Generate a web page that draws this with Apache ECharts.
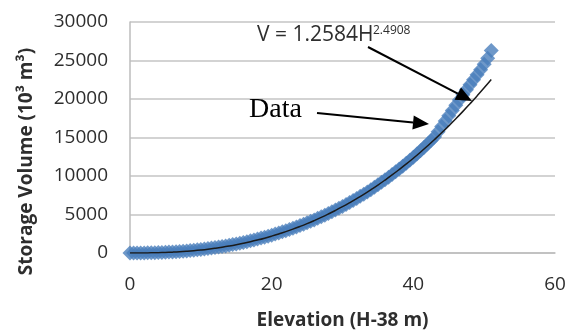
<!DOCTYPE html>
<html>
<head>
    <meta charset="UTF-8">
    <title>Storage Volume vs Elevation</title>
    <script src="https://cdn.jsdelivr.net/npm/echarts@6/dist/echarts.min.js"></script>
    <style>
        * { margin: 0; padding: 0; }
        body { background: #fff; }
        #chart { width: 571px; height: 332px; }
    </style>
</head>
<body>
    <div id="chart"></div>
    <script>
        // elevation (H-38 m) of each measured point
        const dataH = [
            0, 0.5, 1, 1.5, 2, 2.5, 3, 3.5, 4, 4.5, 5, 5.5, 6, 6.5, 7, 7.5, 8, 8.5, 9, 9.5,
            10, 10.5, 11, 11.5, 12, 12.5, 13, 13.5, 14, 14.5, 15, 15.5, 16, 16.5, 17, 17.5, 18, 18.5, 19, 19.5,
            20, 20.5, 21, 21.5, 22, 22.5, 23, 23.5, 24, 24.5, 25, 25.5, 26, 26.5, 27, 27.5, 28, 28.5, 29, 29.5,
            30, 30.5, 31, 31.5, 32, 32.5, 33, 33.5, 34, 34.5, 35, 35.5, 36, 36.5, 37, 37.5, 38, 38.5, 39, 39.5,
            40, 40.5, 41, 41.5, 42, 42.5, 43, 43.5, 44, 44.5, 45, 45.5, 46, 46.5, 47, 47.5, 48, 48.5, 49, 49.5,
            50, 50.5, 51
        ];
        // storage volume (10^3 m3)
        const dataV = [
            0, 2, 5, 9, 15, 22, 30, 42, 55, 72, 90, 115, 140, 170, 200, 235, 270, 315, 360, 410,
            460, 515, 570, 635, 700, 770, 840, 920, 1000, 1090, 1180, 1275, 1370, 1475, 1580, 1695, 1810, 1935, 2060, 2190,
            2320, 2460, 2600, 2750, 2900, 3060, 3220, 3390, 3560, 3740, 3920, 4110, 4300, 4500, 4700, 4910, 5120, 5345, 5570, 5810,
            6050, 6300, 6550, 6815, 7080, 7360, 7640, 7935, 8230, 8540, 8850, 9175, 9500, 9840, 10180, 10540, 10900, 11275, 11650, 12050,
            12450, 12865, 13280, 13715, 14150, 14600, 15050, 15740, 16440, 17135, 17830, 18515, 19200, 19870, 20540, 21200, 21860, 22510, 23160, 23800,
            24500, 25300, 26300
        ];

        // power-law trendline as drawn
        const fitH = [
            0, 1, 2, 3, 4, 5, 6, 7, 8, 9, 10, 11, 12, 13, 14, 15, 16, 17, 18, 19, 20, 21, 22, 23, 24, 25,
            26, 27, 28, 29, 30, 31, 32, 33, 34, 35, 36, 37, 38, 39, 40, 41, 42, 43, 44, 45, 46, 47, 48, 49, 50, 51
        ];
        const fitV = [
            0, 1, 7, 19, 40, 69, 109, 160, 224, 300, 390, 494, 614, 749, 901, 1070, 1257, 1462, 1686, 1928, 2191, 2474, 2777, 3102, 3449, 3818,
            4210, 4624, 5063, 5526, 6013, 6525, 7061, 7623, 8213, 8826, 9468, 10136, 10833, 11558, 12310, 13090, 13900, 14740, 15607, 16508, 17433, 18391, 19384, 20405, 21458, 22544
        ];

        const xTicks = [0, 20, 40, 60];

        const labelFont = { fontFamily: 'Open Sans', fontSize: 19, color: '#2e2e2e' };
        const titleFont = { fontFamily: 'Open Sans', fontSize: 19, fontWeight: 'bold', color: '#2e2e2e' };

        const chart = echarts.init(document.getElementById('chart'));

        // annotation arrow: shaft + filled head, pixel coords
        function arrow(x1, y1, x2, y2) {
            const ang = Math.atan2(y2 - y1, x2 - x1);
            const len = 16, half = 7;
            const bx = x2 - len * Math.cos(ang), by = y2 - len * Math.sin(ang);
            const px = -Math.sin(ang) * half, py = Math.cos(ang) * half;
            return [
                { type: 'line', shape: { x1: x1, y1: y1, x2: bx, y2: by }, style: { stroke: '#000', lineWidth: 2 }, z: 10 },
                { type: 'polygon', shape: { points: [[x2, y2], [bx + px, by + py], [bx - px, by - py]] }, style: { fill: '#000' }, z: 10 }
            ];
        }

        chart.setOption({
            animation: false,
            grid: { left: 130, right: 16, top: 22, bottom: 79, outerBoundsMode: 'none', containLabel: false },
            xAxis: {
                type: 'value', min: 0, max: 60, interval: 20,
                name: 'Elevation (H-38 m)', nameLocation: 'middle', nameGap: 58,
                nameTextStyle: titleFont,
                axisLine: { show: true, lineStyle: { color: '#bdbdbd', width: 1.5 } },
                axisTick: { show: false },
                axisLabel: Object.assign({ margin: 22, customValues: xTicks }, labelFont),
                splitLine: { show: false }
            },
            yAxis: {
                type: 'value', min: 0, max: 30000, interval: 5000,
                name: 'Storage Volume (10³ m³)', nameLocation: 'middle', nameGap: 94,
                nameTextStyle: Object.assign({ padding: [0, 48, 0, 0] }, titleFont),
                axisLine: { show: true, lineStyle: { color: '#bdbdbd', width: 1.5 } },
                axisTick: { show: false },
                axisLabel: Object.assign({ margin: 22, formatter: v => String(v) }, labelFont),
                splitLine: { lineStyle: { color: '#c4c4c4', width: 1.5 } }
            },
            series: [
                {
                    type: 'scatter',
                    data: dataH.map((h, i) => [h, dataV[i]]),
                    symbol: 'diamond', symbolSize: 15,
                    itemStyle: { color: '#4a7ebb' },
                    z: 2
                },
                {
                    type: 'line',
                    data: fitH.map((h, i) => [h, fitV[i]]),
                    showSymbol: false, smooth: true,
                    lineStyle: { color: '#1a1a1a', width: 1.5 },
                    z: 3
                }
            ],
            graphic: [
                { type: 'text', left: 257, top: 25, style: { text: 'V = 1.2584H', font: '21px "Open Sans"', fill: '#2e2e2e' }, z: 10 },
                { type: 'text', left: 373, top: 25, style: { text: '2.4908', font: '12px "Open Sans"', fill: '#2e2e2e' }, z: 10 },
                { type: 'text', left: 249, top: 96, style: { text: 'Data', font: '28px "Liberation Serif"', fill: '#000' }, z: 10 }
            ].concat(arrow(368, 47, 472, 101), arrow(317, 113, 429, 124))
        });
    </script>
</body>
</html>
